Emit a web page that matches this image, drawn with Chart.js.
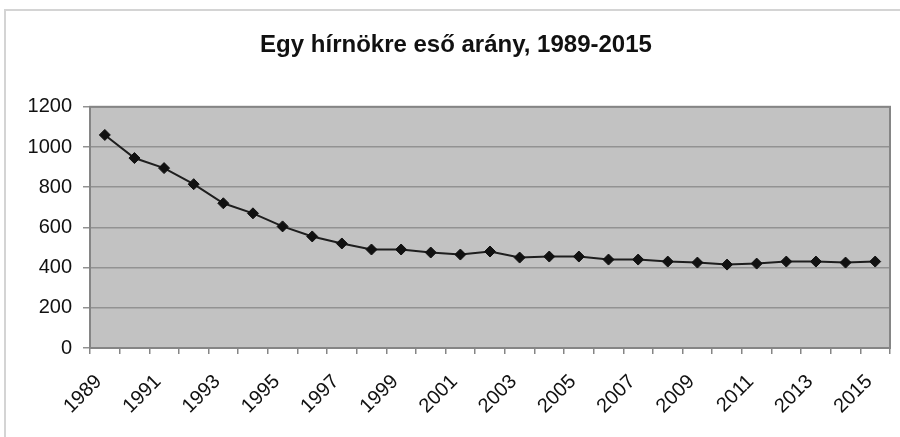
<!DOCTYPE html>
<html>
<head>
<meta charset="utf-8">
<script src="https://cdn.jsdelivr.net/npm/chart.js@4/dist/chart.umd.min.js"></script>
<style>
  html, body { margin: 0; padding: 0; background: #fff; }
  #wrap { width: 900px; height: 437px; position: relative; }
</style>
</head>
<body>
<div id="wrap"><canvas id="ratioChart" width="900" height="437"></canvas></div>
<script>
  const years = ["1989", "1990", "1991", "1992", "1993", "1994", "1995", "1996", "1997",
    "1998", "1999", "2000", "2001", "2002", "2003", "2004", "2005", "2006", "2007",
    "2008", "2009", "2010", "2011", "2012", "2013", "2014", "2015"];
  const ratio = [1060, 945, 895, 815, 720, 670, 605, 555, 520,
    490, 490, 475, 465, 480, 450, 455, 455, 440, 440,
    430, 425, 415, 420, 430, 430, 425, 430];
  const yTicks = [0, 200, 400, 600, 800, 1000, 1200];
  const chartTitle = "Egy hírnökre eső arány, 1989-2015";

  // plot background, frame and outer border
  const plotFrame = {
    id: "plotFrame",
    beforeDraw(chart) {
      const { ctx, chartArea: a } = chart;
      ctx.save();
      ctx.fillStyle = "#ffffff";
      ctx.fillRect(0, 0, chart.width, chart.height);
      ctx.strokeStyle = "#d4d4d4";
      ctx.lineWidth = 2;
      ctx.beginPath();
      ctx.moveTo(5, 437);
      ctx.lineTo(5, 10);
      ctx.lineTo(900, 10);
      ctx.stroke();
      ctx.fillStyle = "#c2c2c2";
      ctx.fillRect(a.left, a.top, a.right - a.left, a.bottom - a.top);
      ctx.restore();
    },
    beforeDatasetsDraw(chart) {
      const { ctx, chartArea: a } = chart;
      ctx.save();
      ctx.strokeStyle = "#858585";
      ctx.lineWidth = 2;
      ctx.strokeRect(a.left, a.top, a.right - a.left, a.bottom - a.top);
      ctx.restore();
    }
  };

  new Chart(document.getElementById("ratioChart").getContext("2d"), {
    type: "line",
    data: {
      labels: years,
      datasets: [{
        label: "Arány",
        data: ratio,
        borderColor: "#1e1e1e",
        borderWidth: 2,
        pointStyle: "rectRot",
        pointRadius: 5.5,
        pointBackgroundColor: "#111111",
        pointBorderColor: "#111111",
        pointBorderWidth: 1,
        tension: 0
      }]
    },
    options: {
      responsive: false,
      animation: false,
      layout: { padding: { top: 0, left: 22, right: 10, bottom: 0 } },
      plugins: {
        legend: { display: false },
        tooltip: { enabled: false },
        title: {
          display: true,
          text: chartTitle,
          color: "#111111",
          font: { family: "Liberation Sans, Arial, sans-serif", size: 24, weight: "bold" },
          padding: { top: 31, bottom: 47 }
        }
      },
      scales: {
        x: {
          offset: true,
          afterFit(scale) {
            scale.height = 89;
            scale.paddingLeft = 0;
            scale.paddingRight = 0;
          },
          grid: {
            offset: true,
            drawOnChartArea: false,
            drawTicks: true,
            tickLength: 6,
            color: "#858585",
            lineWidth: 1.5
          },
          border: { display: false },
          ticks: {
            autoSkip: false,
            minRotation: 45,
            maxRotation: 45,
            padding: 16,
            labelOffset: -6,
            color: "#111111",
            font: { family: "Liberation Sans, Arial, sans-serif", size: 20 },
            callback(value, index) { return index % 2 === 0 ? years[index] : ""; }
          }
        },
        y: {
          min: 0,
          max: 1200,
          afterFit(scale) { scale.width = 68; },
          afterBuildTicks(scale) { scale.ticks = yTicks.map(v => ({ value: v })); },
          grid: {
            color: "#929292",
            lineWidth: 1.5,
            drawTicks: true,
            tickLength: 7
          },
          border: { display: false },
          ticks: {
            padding: 11,
            color: "#111111",
            font: { family: "Liberation Sans, Arial, sans-serif", size: 20 },
            callback(value) { return String(value); }
          }
        }
      }
    },
    plugins: [plotFrame]
  });
</script>
</body>
</html>
